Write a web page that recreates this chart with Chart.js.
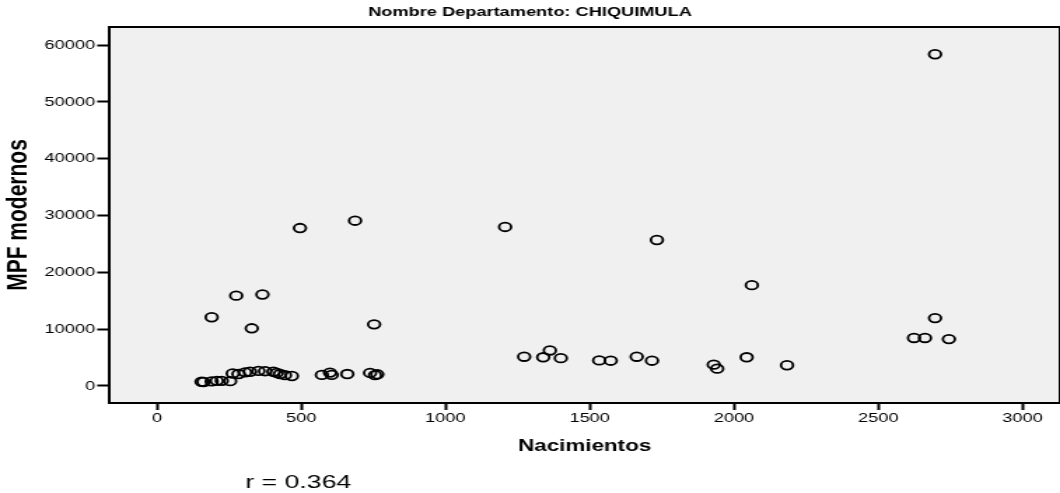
<!DOCTYPE html>
<html><head><meta charset="utf-8">
<script src="https://cdn.jsdelivr.net/npm/chart.js@4.4.1/dist/chart.umd.min.js"></script>
<style>html,body{margin:0;padding:0;background:#fff;overflow:hidden}
#wrap{width:757px;height:493px;transform:scaleX(1.40026);transform-origin:0 0}
#c{display:block}</style>
</head><body>
<div id="wrap"><canvas id="c" width="757" height="493"></canvas></div>
<script>
const TITLE = 'Nombre Departamento: CHIQUIMULA';
const X_TITLE = 'Nacimientos';
const Y_TITLE = 'MPF modernos';
const R_LABEL = 'r = 0.364';
const X_TICKS = [0, 500, 1000, 1500, 2000, 2500, 3000];
const Y_TICKS = [0, 10000, 20000, 30000, 40000, 50000, 60000];

const nacimientos = [155,162,190,208,225,254,263,283,306,323,352,375,404,416,427,444,468,572,600,606,660,739,756,764,
  190,275,366,329,496,687,753,1207,1273,1339,1362,1400,1533,1573,1663,1716,1733,1930,1942,2044,2062,2184,2624,2662,2697,2697,2745];
const mpfModernos = [750,700,800,900,900,850,2200,2100,2400,2500,2650,2600,2500,2300,2100,1900,1750,1950,2350,1950,2100,2300,1900,2050,
  12100,15900,16100,10150,27800,29100,10850,28000,5150,5050,6250,4900,4500,4450,5150,4450,25700,3750,3050,5050,17750,3650,8450,8450,11950,58400,8250];

const FONT = '"Liberation Sans", Arial, Helvetica, sans-serif';

const framePlugin = {
  id: 'frame',
  beforeDraw(chart) {
    const {ctx, chartArea: a} = chart;
    ctx.save();
    ctx.fillStyle = '#f0f0f0';
    ctx.fillRect(a.left, a.top, a.right - a.left, a.bottom - a.top);
    ctx.restore();
  },
  afterDraw(chart) {
    const {ctx, chartArea: a} = chart;
    ctx.save();
    ctx.strokeStyle = '#000';
    ctx.lineWidth = 2;
    ctx.strokeRect(a.left, a.top, a.right - a.left, a.bottom - a.top);
    ctx.fillStyle = '#000';
    ctx.font = '19px ' + FONT;
    ctx.textAlign = 'center';
    ctx.textBaseline = 'middle';
    ctx.fillText(R_LABEL, 213, 483);
    ctx.restore();
  }
};

new Chart(document.getElementById('c'), {
  type: 'scatter',
  data: {
    datasets: [{
      data: nacimientos.map((x, i) => ({x: x, y: mpfModernos[i]})),
      pointStyle: 'circle',
      pointRadius: 4.3,
      pointBorderWidth: 1.8,
      pointBackgroundColor: 'rgba(0,0,0,0)',
      pointBorderColor: '#000'
    }]
  },
  options: {
    responsive: false,
    animation: false,
    devicePixelRatio: 1,
    events: [],
    layout: {padding: 0, autoPadding: false},
    plugins: {
      legend: {display: false},
      tooltip: {enabled: false},
      title: {
        display: true, text: TITLE, color: '#000',
        font: {family: FONT, size: 13, weight: 'bold', lineHeight: 1.2},
        padding: {top: 5, bottom: 6.4}
      }
    },
    scales: {
      x: {
        type: 'linear', position: 'bottom', min: -165, max: 3130,
        afterBuildTicks: s => { s.ticks = X_TICKS.map(v => ({value: v})); },
        afterFit: s => { s.height = 90; s.paddingLeft = 0; s.paddingRight = 0; },
        grid: {display: true, drawOnChartArea: false, drawTicks: true, tickLength: 7, tickWidth: 2, tickColor: '#000'},
        border: {display: true, color: '#000', width: 2},
        ticks: {color: '#000', autoSkip: false, maxRotation: 0, font: {family: FONT, size: 13}, padding: 1, callback: v => String(v)},
        title: {display: true, text: X_TITLE, color: '#000', font: {family: FONT, size: 16, weight: 'bold', lineHeight: 1.2}, padding: {top: 0, bottom: 36.4}}
      },
      y: {
        type: 'linear', position: 'left', min: -3000, max: 63200,
        afterBuildTicks: s => { s.ticks = Y_TICKS.map(v => ({value: v})); },
        afterFit: s => { s.width = 78; s.paddingTop = 0; s.paddingBottom = 0; },
        grid: {display: true, drawOnChartArea: false, drawTicks: true, tickLength: 8.6, tickWidth: 2, tickColor: '#000'},
        border: {display: true, color: '#000', width: 2},
        ticks: {color: '#000', autoSkip: false, font: {family: FONT, size: 13}, padding: 1.5, callback: v => String(v)},
        title: {display: true, text: Y_TITLE, color: '#000', font: {family: FONT, size: 21, weight: 'bold', lineHeight: 1}, padding: {top: 3, bottom: 0}}
      }
    }
  },
  plugins: [framePlugin]
});
</script>
</body></html>
